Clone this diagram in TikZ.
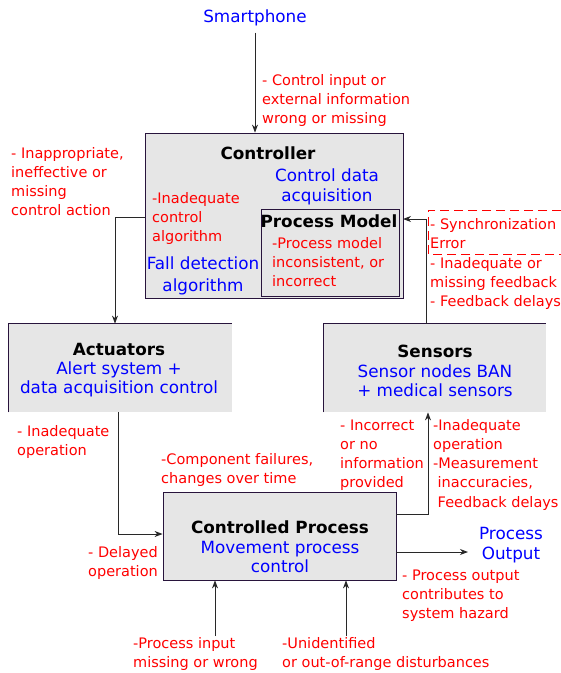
\documentclass[tikz,border=0pt]{standalone}
\usepackage{fontspec}
\setmainfont{DejaVu Sans}
\usetikzlibrary{arrows.meta}
\definecolor{rd}{RGB}{255,0,0}
\definecolor{bl}{RGB}{0,0,255}
\definecolor{boxfill}{RGB}{230,230,230}
\definecolor{boxline}{RGB}{40,20,60}
\definecolor{wire}{RGB}{40,40,40}
\begin{document}
\begin{tikzpicture}[x=1pt,y=-1pt,
  redtxt/.style={text=rd, font=\fontsize{14.5}{19}\selectfont, align=left, inner sep=0pt, anchor=base west},
  bluetxt/.style={text=bl, font=\fontsize{16.8}{20}\selectfont, align=center, inner sep=0pt, anchor=base},
  titletxt/.style={font=\bfseries\fontsize{16.8}{20}\selectfont, inner sep=0pt, anchor=base},
  blk/.style={draw=boxline, fill=boxfill, line width=0.8pt, inner sep=0pt, rectangle},
  arr/.style={draw=wire, line width=0.9pt, -{Stealth[length=8pt,width=6pt,inset=2.5pt]}},
]
\useasboundingbox (0,0) rectangle (561,673);

% (anchor=base of a multi-line node = baseline of its last line)
% Smartphone and control input
\node[bluetxt] (sp) at (255,22) {Smartphone};
\node[redtxt] (cin) at (262,123) {- Control input or\\external information\\wrong or missing};

% Controller
\node[blk, minimum width=258pt, minimum height=165pt] (ctrl) at (274,215.5) {};
\node[titletxt] (ctrlT) at (268,159) {Controller};
\node[bluetxt] (cda) at (327,201) {Control data\\acquisition};
\node[redtxt] (ica) at (152,241) {-Inadequate\\control\\algorithm};
\node[bluetxt, font=\fontsize{16.8}{22}\selectfont] (fda) at (203,291) {Fall detection\\algorithm};
\node[blk, minimum width=138pt, minimum height=87pt] (pm) at (330,252.5) {};
\node[titletxt] (pmT) at (329,227) {Process Model};
\node[redtxt] (pmr) at (272,286) {-Process model\\inconsistent, or\\incorrect};

\node[redtxt] (lact) at (11,215) {- Inappropriate,\\ineffective or\\missing\\control action};

% feedback labels
\draw[rd, line width=0.8pt, dash pattern=on 9pt off 5pt] (561,210) -- (428,210) -- (428,254) -- (561,254);
\node[redtxt] (sync) at (430,248) {- Synchronization\\Error};
\node[redtxt] (fb) at (430,306) {- Inadequate or\\missing feedback\\- Feedback delays};

% Actuators
\node[blk, draw=none, minimum width=223pt, minimum height=88pt] (act) at (120.5,368) {};
\draw[boxline, line width=0.8pt] (act.south west) -- (act.north west) -- (act.north east);
\node[titletxt] (actT) at (119,355) {Actuators};
\node[bluetxt, font=\fontsize{16.8}{19}\selectfont] (actB) at (119,393.5) {Alert system +\\data acquisition control};

% Sensors
\node[blk, draw=none, minimum width=222pt, minimum height=88pt] (sens) at (435,368) {};
\draw[boxline, line width=0.8pt] (sens.south west) -- (sens.north west) -- (sens.north east);
\node[titletxt] (sensT) at (435,357) {Sensors};
\node[bluetxt, font=\fontsize{16.8}{19}\selectfont] (sensB) at (435,396) {Sensor nodes BAN\\+ medical sensors};

\node[redtxt] (inop) at (17,455) {- Inadequate\\operation};
\node[redtxt] (incr) at (340,487) {- Incorrect\\or no\\information\\provided};
\node[redtxt, font=\fontsize{14.5}{19.25}\selectfont] (inop2) at (433,507) {-Inadequate\\operation\\-Measurement\\\hspace*{4.5pt}inaccuracies,\\\hspace*{4.5pt}Feedback delays};
\node[redtxt] (comp) at (161,483) {-Component failures,\\changes over time};

% Controlled process
\node[blk, minimum width=233pt, minimum height=88pt] (cp) at (279.5,536) {};
\node[titletxt] (cpT) at (280,533) {Controlled Process};
\node[bluetxt, font=\fontsize{16.8}{19}\selectfont] (cpB) at (280,572) {Movement process\\control};
\node[redtxt] (delay) at (88,576) {- Delayed\\operation};
\node[bluetxt] (po) at (511,559) {Process\\Output};
\node[redtxt] (haz) at (402,618) {- Process output\\contributes to\\system hazard};
\node[redtxt] (pin) at (133,667) {-Process input\\missing or wrong};
\node[redtxt] (dist) at (282,667) {-Unidentified\\or out-of-range disturbances};

% free ends
\coordinate (fbin) at (403,219);
\coordinate (outtip) at (468,552);
\coordinate (in1) at (215,636);
\coordinate (in2) at (346,636);

% connectors
\draw[arr, shorten <=7pt] (sp.south) -- (sp.south |- ctrl.north);
\draw[arr] ([yshift=-1.5pt]ctrl.west) -| ([xshift=-5.5pt]act.north);
\draw[arr] ([xshift=-9pt]sens.north) |- (fbin);
\draw[arr] ([xshift=-2pt]act.south) |- ([yshift=2pt]cp.west);
\draw[arr] ([yshift=22pt]cp.east) -| ([xshift=-7pt]sens.south);
\draw[arr] ([yshift=-16pt]cp.east) -- (outtip);
\draw[arr] (in1) -- (in1 |- cp.south);
\draw[arr] (in2) -- (in2 |- cp.south);
\end{tikzpicture}
\end{document}
